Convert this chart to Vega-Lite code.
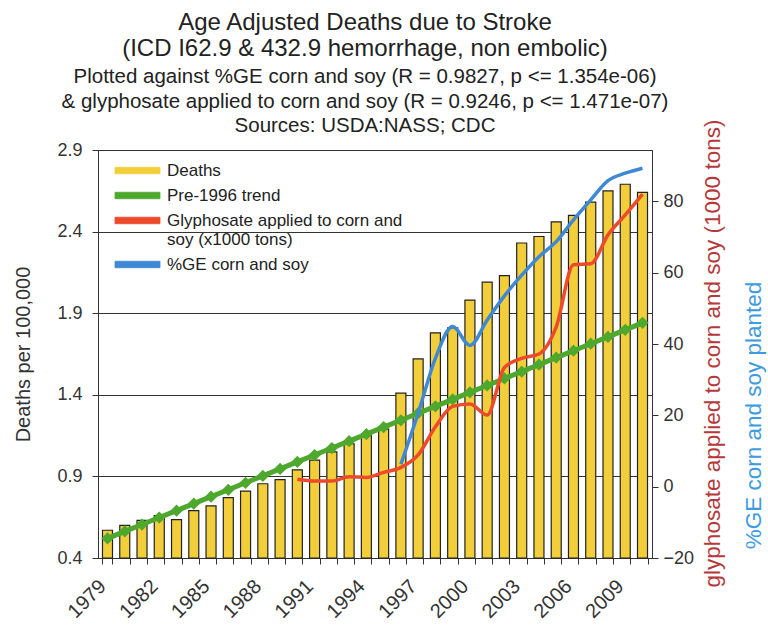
{
  "$schema": "https://vega.github.io/schema/vega-lite/v6.json",
  "width": 554,
  "height": 408,
  "autosize": {"type": "none"},
  "padding": {"left": 98, "top": 150, "right": 116, "bottom": 67},
  "background": "white",
  "config": {
    "font": "Liberation Sans",
    "view": {"stroke": "#333", "strokeWidth": 1},
    "axis": {
      "labelColor": "#333",
      "titleColor": "#333",
      "domainColor": "#333",
      "tickColor": "#333",
      "labelFont": "Liberation Sans",
      "titleFont": "Liberation Sans",
      "titleFontWeight": "normal",
      "labelFontSize": 18,
      "titleFontSize": 20
    },
    "legend": {"labelFont": "Liberation Sans"}
  },
  "title": {
    "text": ["Age Adjusted Deaths due to Stroke", "(ICD I62.9 & 432.9 hemorrhage, non embolic)"],
    "subtitle": ["Plotted against %GE corn and soy (R = 0.9827, p <= 1.354e-06)", "& glyphosate applied to corn and soy (R = 0.9246, p <= 1.471e-07)", "Sources: USDA:NASS; CDC"],
    "font": "Liberation Sans",
    "subtitleFont": "Liberation Sans",
    "fontSize": 24,
    "fontWeight": "normal",
    "color": "#222",
    "subtitleFontSize": 20.5,
    "subtitleColor": "#222",
    "anchor": "middle",
    "frame": "group",
    "offset": -21,
    "dx": -10,
    "lineHeight": 26,
    "subtitleLineHeight": 24.5,
    "subtitlePadding": 6
  },
  "data": {
    "values": [
      {"year": 1979, "deaths": 0.57, "trend": 0.520, "glyphosate": null, "ge": null},
      {"year": 1980, "deaths": 0.60, "trend": 0.563, "glyphosate": null, "ge": null},
      {"year": 1981, "deaths": 0.63, "trend": 0.605, "glyphosate": null, "ge": null},
      {"year": 1982, "deaths": 0.66, "trend": 0.648, "glyphosate": null, "ge": null},
      {"year": 1983, "deaths": 0.635, "trend": 0.690, "glyphosate": null, "ge": null},
      {"year": 1984, "deaths": 0.69, "trend": 0.733, "glyphosate": null, "ge": null},
      {"year": 1985, "deaths": 0.72, "trend": 0.776, "glyphosate": null, "ge": null},
      {"year": 1986, "deaths": 0.77, "trend": 0.818, "glyphosate": null, "ge": null},
      {"year": 1987, "deaths": 0.81, "trend": 0.861, "glyphosate": null, "ge": null},
      {"year": 1988, "deaths": 0.855, "trend": 0.903, "glyphosate": null, "ge": null},
      {"year": 1989, "deaths": 0.88, "trend": 0.946, "glyphosate": null, "ge": null},
      {"year": 1990, "deaths": 0.94, "trend": 0.989, "glyphosate": 2.1, "ge": null},
      {"year": 1991, "deaths": 1.00, "trend": 1.031, "glyphosate": 1.6, "ge": null},
      {"year": 1992, "deaths": 1.05, "trend": 1.074, "glyphosate": 1.6, "ge": null},
      {"year": 1993, "deaths": 1.10, "trend": 1.116, "glyphosate": 2.8, "ge": null},
      {"year": 1994, "deaths": 1.15, "trend": 1.159, "glyphosate": 2.6, "ge": null},
      {"year": 1995, "deaths": 1.19, "trend": 1.202, "glyphosate": 4.0, "ge": null},
      {"year": 1996, "deaths": 1.41, "trend": 1.244, "glyphosate": 5.4, "ge": 6.3},
      {"year": 1997, "deaths": 1.62, "trend": 1.287, "glyphosate": 8.9, "ge": 20.6},
      {"year": 1998, "deaths": 1.78, "trend": 1.329, "glyphosate": 16.8, "ge": 36.0},
      {"year": 1999, "deaths": 1.81, "trend": 1.372, "glyphosate": 22.5, "ge": 44.9},
      {"year": 2000, "deaths": 1.98, "trend": 1.415, "glyphosate": 23.2, "ge": 39.6},
      {"year": 2001, "deaths": 2.09, "trend": 1.457, "glyphosate": 20.1, "ge": 46.7},
      {"year": 2002, "deaths": 2.13, "trend": 1.500, "glyphosate": 33.4, "ge": 53.5},
      {"year": 2003, "deaths": 2.33, "trend": 1.542, "glyphosate": 36.0, "ge": 59.3},
      {"year": 2004, "deaths": 2.37, "trend": 1.585, "glyphosate": 37.2, "ge": 64.5},
      {"year": 2005, "deaths": 2.46, "trend": 1.628, "glyphosate": 44.8, "ge": 68.7},
      {"year": 2006, "deaths": 2.50, "trend": 1.670, "glyphosate": 62.2, "ge": 74.8},
      {"year": 2007, "deaths": 2.58, "trend": 1.713, "glyphosate": 62.5, "ge": 80.4},
      {"year": 2008, "deaths": 2.65, "trend": 1.755, "glyphosate": 70.6, "ge": 85.8},
      {"year": 2009, "deaths": 2.69, "trend": 1.798, "glyphosate": 76.2, "ge": 87.9},
      {"year": 2010, "deaths": 2.64, "trend": 1.841, "glyphosate": 82.0, "ge": 89.3}
    ]
  },
  "encoding": {
    "x": {
      "field": "year",
      "type": "ordinal",
      "scale": {"paddingInner": 0.42, "paddingOuter": 0.26},
      "axis": {
        "title": null,
        "labelAngle": -45,
        "labelAlign": "right",
        "labelBaseline": "middle",
        "labelExpr": "(datum.value - 1979) % 3 == 0 ? datum.label : ''",
        "labelOverlap": false,
        "labelFontSize": 20,
        "labelPadding": 19,
        "labelOffset": -5,
        "tickBand": "extent",
        "tickSize": 6
      }
    }
  },
  "layer": [
    {
      "encoding": {
        "y": {
          "type": "quantitative",
          "title": "Deaths per 100,000",
          "scale": {"domain": [0.4, 2.9], "nice": false, "zero": false},
          "axis": {
            "orient": "left",
            "values": [0.4, 0.9, 1.4, 1.9, 2.4, 2.9],
            "format": ".1f",
            "grid": true,
            "gridColor": "#333",
            "gridOpacity": 1,
            "tickSize": 6,
            "labelPadding": 10,
            "titlePadding": 23
          }
        }
      },
      "layer": [
        {
          "mark": {"type": "bar", "stroke": "#222", "strokeWidth": 1.2},
          "encoding": {
            "y": {"field": "deaths", "type": "quantitative", "title": "Deaths per 100,000"},
            "y2": {"datum": 0.4},
            "color": {
              "datum": "Deaths",
              "scale": {
                "domain": ["Deaths", "Pre-1996 trend", "Glyphosate applied to corn and soy (x1000 tons)", "%GE corn and soy"],
                "range": ["#f2cf3a", "#4ea82e", "#ee4a2a", "#3f88d4"]
              },
              "legend": {
                "title": null,
                "orient": "none",
                "legendX": 30,
                "legendY": 11,
                "labelFontSize": 17,
                "labelColor": "#222",
                "labelLimit": 400,
                "labelOffset": 20,
                "rowPadding": 7,
                "symbolSize": 324,
                "symbolType": "M-2.5,-0.36H2.5V0.36H-2.5Z",
                "symbolStrokeWidth": 0.8,
                "labelExpr": "datum.label == 'Glyphosate applied to corn and soy (x1000 tons)' ? ['Glyphosate applied to corn and', 'soy (x1000 tons)'] : datum.label"
              }
            }
          }
        },
        {
          "mark": {"type": "line", "strokeWidth": 5, "point": {"filled": true, "shape": "diamond", "size": 150}},
          "encoding": {
            "y": {"field": "trend", "type": "quantitative", "title": "Deaths per 100,000"},
            "color": {"datum": "Pre-1996 trend"}
          }
        }
      ]
    },
    {
      "mark": {"type": "line", "strokeWidth": 3.5, "interpolate": "monotone"},
      "encoding": {
        "y": {
          "field": "glyphosate",
          "type": "quantitative",
          "title": "glyphosate applied to corn and soy  (1000 tons)",
          "scale": {"domain": [-20, 94.4], "nice": false, "zero": false},
          "axis": {
            "orient": "right",
            "values": [-20, 0, 20, 40, 60, 80],
            "grid": false,
            "tickSize": 6,
            "labelPadding": 5,
            "labelFontSize": 18,
            "titleColor": "#b5393a",
            "titleAngle": 270,
            "titleAlign": "center",
            "titleY": 203,
            "titleFontSize": 22.5,
            "titlePadding": 31
          }
        },
        "color": {"datum": "Glyphosate applied to corn and soy (x1000 tons)"}
      }
    },
    {
      "mark": {"type": "line", "strokeWidth": 3.5, "interpolate": "monotone"},
      "encoding": {
        "y": {
          "field": "ge",
          "type": "quantitative",
          "title": "%GE corn and soy planted",
          "scale": {"domain": [-20, 94.4], "nice": false, "zero": false},
          "axis": {
            "orient": "right",
            "labels": false,
            "ticks": false,
            "domain": false,
            "grid": false,
            "titleColor": "#3d9be0",
            "titleAngle": 270,
            "titleAlign": "center",
            "titleY": 265,
            "titleFontSize": 22.5,
            "titlePadding": 113
          }
        },
        "color": {"datum": "%GE corn and soy"}
      }
    }
  ],
  "resolve": {"scale": {"y": "independent"}}
}
